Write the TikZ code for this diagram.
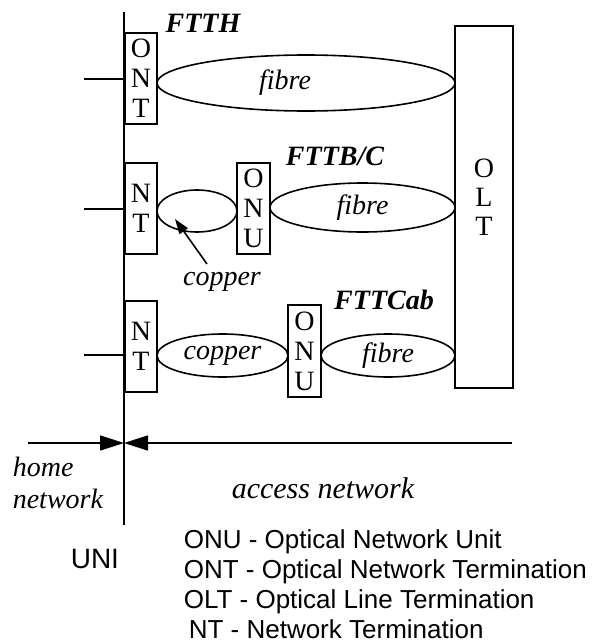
\documentclass[tikz,border=0pt]{standalone}
\usepackage{fontspec}
\setmainfont{Liberation Serif}
\setsansfont{Liberation Sans}
\usepackage{tikz}
\usetikzlibrary{shapes.geometric, arrows.meta}

\begin{document}
\begin{tikzpicture}[x=1pt, y=-1pt, line width=1.6pt,
    unit/.style={draw, rectangle, minimum width=32pt, inner sep=0pt, align=center, font=\fontsize{28}{30}\selectfont},
    unittext/.style={inner sep=0pt, align=center, font=\fontsize{28}{29}\selectfont},
    link/.style={draw, ellipse, inner sep=0pt, font=\fontsize{28}{30}\selectfont\itshape},
    lbl/.style={inner sep=0pt, font=\fontsize{28}{32}\selectfont\itshape},
    tag/.style={inner sep=0pt, font=\fontsize{28}{30}\selectfont\bfseries\itshape},
    legend/.style={anchor=base west, inner sep=0pt, font=\fontsize{26}{30}\selectfont\sffamily},
    boundary/.style={-{Triangle[length=24pt, width=15pt]}}]
  \useasboundingbox (0,0) rectangle (600,643);

  % UNI line
  \coordinate (unitop) at (124,12);
  \coordinate (unibot) at (124,525);
  \draw (unitop) -- (unibot);

  % FTTH
  \node[unit, minimum height=91pt] (ont) at (141,78.5) {O\\N\\T};
  \node[link, minimum width=298pt, minimum height=56pt,
        label={[lbl, xshift=-21pt]center:fibre}] (fib1) at (306,83) {};
  \node[tag] (ftth) at (203,23) {FTTH};

  % OLT
  \node[unit, minimum width=58pt, minimum height=362pt] (olt) at (484,207) {};
  \node[unittext] (olttext) at (484,197) {O\\L\\T};

  % FTTB/C
  \node[unit, minimum height=91pt] (nt2) at (141,208.5) {N\\T};
  \node[link, minimum width=80pt, minimum height=42pt] (cu2) at (197,211) {};
  \node[unit, minimum width=33pt, minimum height=91pt] (onu2) at (253.5,208.5) {O\\N\\U};
  \node[link, minimum width=185pt, minimum height=49pt] (fib2) at (362.5,207.5) {fibre};
  \node[tag] (fttb) at (335,156) {FTTB/C};
  \node[lbl] (cu2lbl) at (222,282) {copper};
  \coordinate (cu2tail) at (207,264);
  \coordinate (cu2tip) at (175,219);
  \draw[-{Triangle[length=15pt, width=10pt]}] (cu2tail) -- (cu2tip);

  % FTTCab
  \node[unit, minimum height=91pt] (nt3) at (141,346.5) {N\\T};
  \node[link, minimum width=131pt, minimum height=43pt] (cu3) at (222.5,355.5) {copper};
  \node[unit, minimum width=33pt, minimum height=92pt] (onu3) at (304.5,351) {O\\N\\U};
  \node[link, minimum width=134pt, minimum height=43pt] (fib3) at (388,355.5) {fibre};
  \node[tag] (fttcab) at (384,300) {FTTCab};

  % home side stubs
  \foreach \y/\n in {79/1, 209/2, 355/3} {
    \coordinate (stub\n) at (84,\y);
    \draw (stub\n) -- (stub\n -| unitop);
  }

  % network boundaries
  \coordinate (uni) at (124,443);
  \coordinate (homeend) at (28,443);
  \coordinate (accend) at (512,443);
  \draw[boundary] (homeend) -- (uni);
  \draw[boundary] (accend) -- (uni);

  \node[lbl, align=left, anchor=west] (home) at (12,483) {home\\network};
  \node[lbl, font=\fontsize{30}{32}\selectfont\itshape] (access) at (323,488) {access network};
  \node[legend, font=\fontsize{28}{30}\selectfont\sffamily] (unilbl) at (70,568) {UNI};

  % legend
  \node[legend] (leg1) at (183,548) {ONU - Optical Network Unit};
  \node[legend] (leg2) at (183,578) {ONT - Optical Network Termination};
  \node[legend] (leg3) at (183,608) {OLT - Optical Line Termination};
  \node[legend] (leg4) at (188,638) {NT - Network Termination};
\end{tikzpicture}
\end{document}
